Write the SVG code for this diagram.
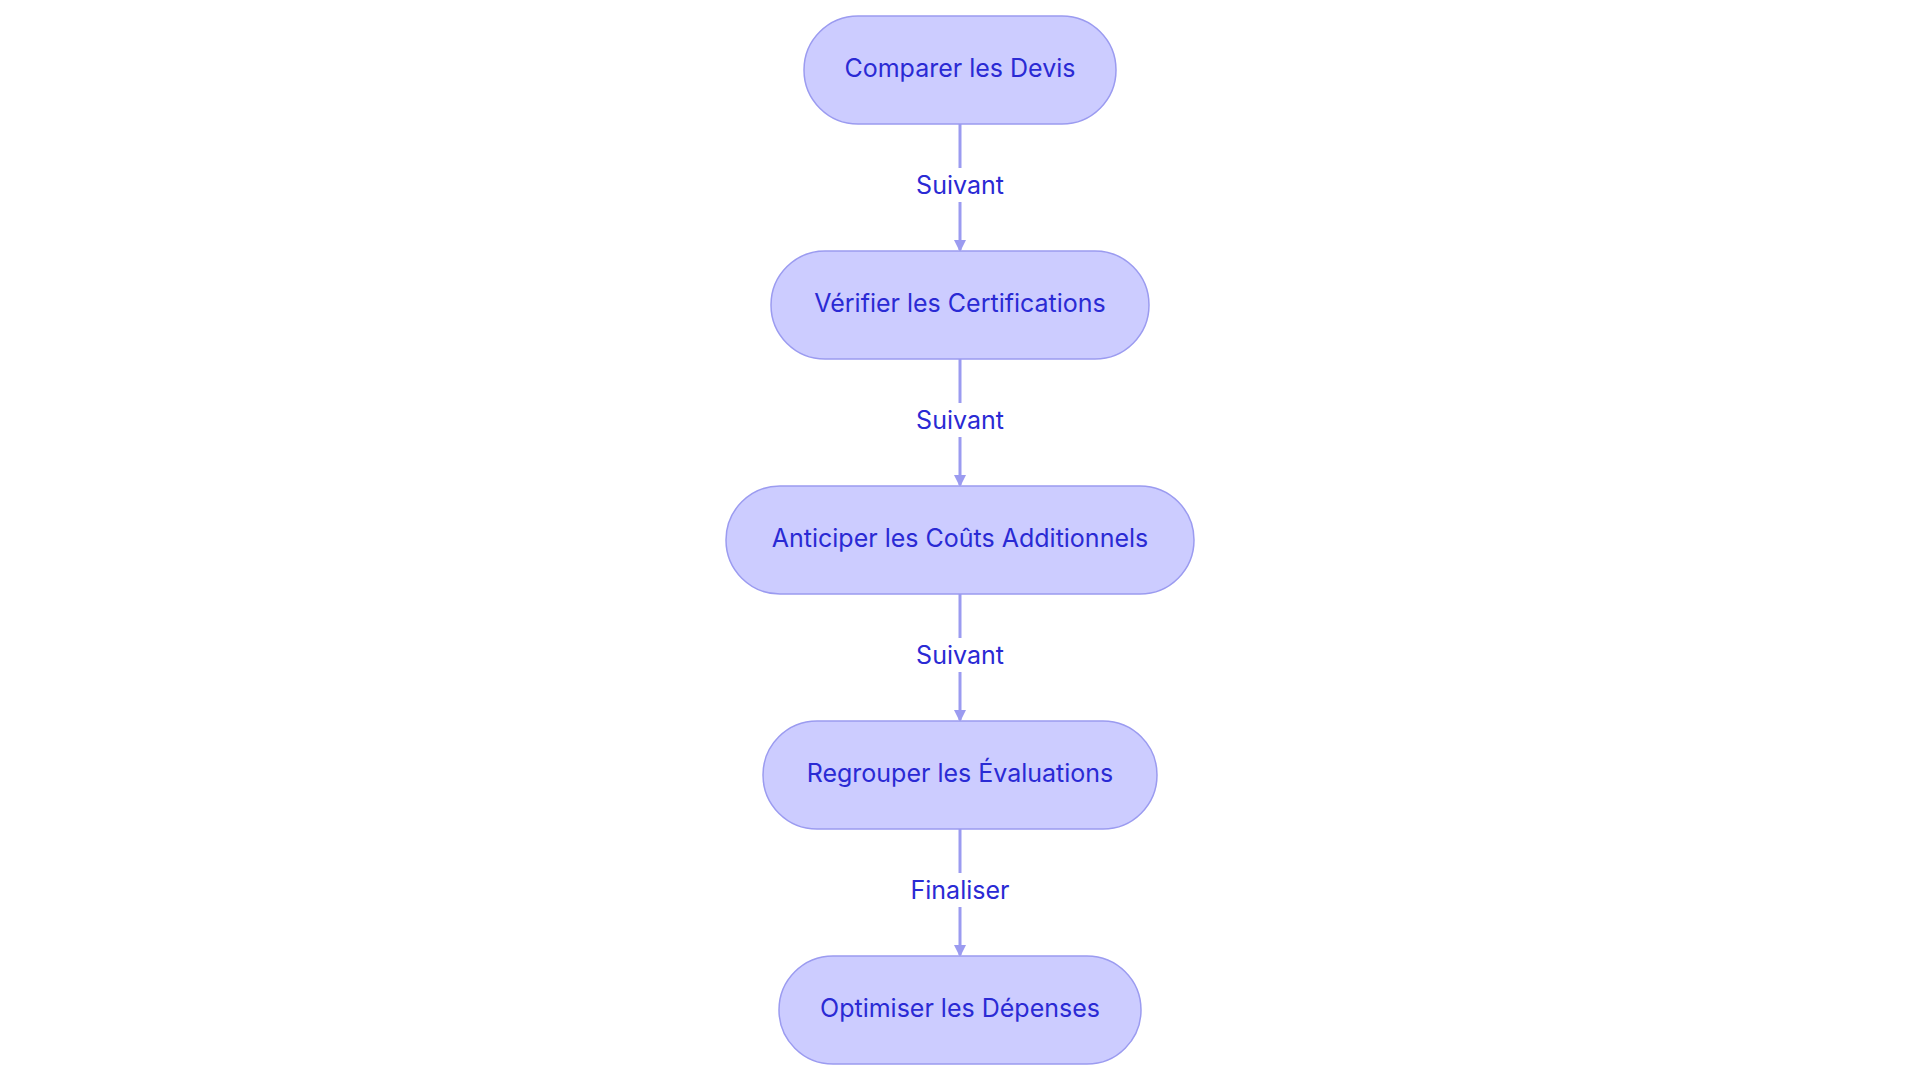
<svg xmlns="http://www.w3.org/2000/svg" width="1920" height="1083" viewBox="0 0 1920 1083">
<style>
.n{fill:#ccccff;stroke:#9b9bf0;stroke-width:1.5}
.t{font-family:Inter,"Liberation Sans",sans-serif;font-size:25px;fill:#2a2ad4;text-anchor:middle;dominant-baseline:central}
.e{stroke:#9b9bf0;stroke-width:3;fill:none;marker-end:url(#a)}
.lb{fill:#ffffff}
</style>
<defs><marker id="a" markerWidth="12" markerHeight="12" refX="10" refY="6" orient="auto" markerUnits="userSpaceOnUse" viewBox="0 0 12 12"><path d="M0,0L12,6L0,12z" fill="#9b9bf0"/></marker></defs>
<rect width="1920" height="1083" fill="#ffffff"/>
<g id="edges">
<path class="e" d="M960,124V250"/><rect class="lb" x="908" y="168" width="104" height="34"/><text class="t" x="960" y="185">Suivant</text>
<path class="e" d="M960,359V485"/><rect class="lb" x="908" y="403" width="104" height="34"/><text class="t" x="960" y="420">Suivant</text>
<path class="e" d="M960,594V720"/><rect class="lb" x="908" y="638" width="104" height="34"/><text class="t" x="960" y="655">Suivant</text>
<path class="e" d="M960,829V955"/><rect class="lb" x="904" y="873" width="112" height="34"/><text class="t" x="960" y="890">Finaliser</text>
</g>
<g id="n1"><rect class="n" x="804" y="16" width="312" height="108" rx="54"/><text class="t" x="960" y="68">Comparer les Devis</text></g>
<g id="n2"><rect class="n" x="771" y="251" width="378" height="108" rx="54"/><text class="t" x="960" y="303">Vérifier les Certifications</text></g>
<g id="n3"><rect class="n" x="726" y="486" width="468" height="108" rx="54"/><text class="t" x="960" y="538">Anticiper les Coûts Additionnels</text></g>
<g id="n4"><rect class="n" x="763" y="721" width="394" height="108" rx="54"/><text class="t" x="960" y="773">Regrouper les Évaluations</text></g>
<g id="n5"><rect class="n" x="779" y="956" width="362" height="108" rx="54"/><text class="t" x="960" y="1008">Optimiser les Dépenses</text></g>
</svg>
